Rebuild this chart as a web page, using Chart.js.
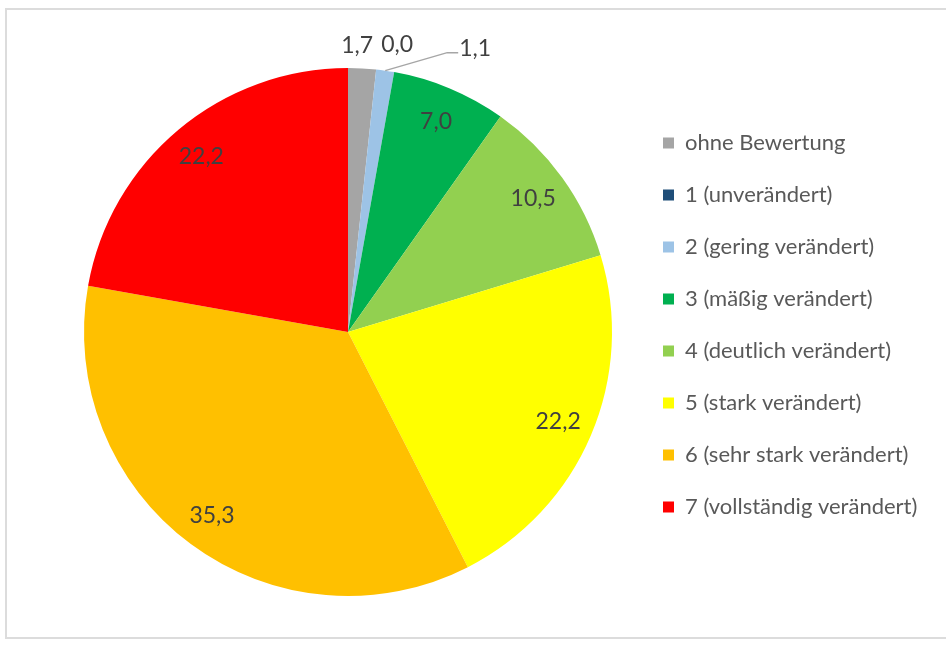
<!DOCTYPE html>
<html>
<head>
<meta charset="utf-8">
<script src="https://cdn.jsdelivr.net/npm/chart.js@4/dist/chart.umd.min.js"></script>
<style>
  html, body { margin: 0; padding: 0; background: #ffffff; overflow: hidden; }
  #frame { position: absolute; left: 5px; top: 8px; width: 960px; height: 631px;
           border: 2px solid #dcdcdc; border-right: none; box-sizing: border-box; background: #fff; }
  #wrap { position: absolute; left: 0; top: 0; width: 946px; height: 649px; }
</style>
</head>
<body>
<div id="frame"></div>
<div id="wrap"><canvas id="c" width="946" height="649"></canvas></div>
<script>
// ---- data ----
const categories = [
  'ohne Bewertung',
  '1 (unverändert)',
  '2 (gering verändert)',
  '3 (mäßig verändert)',
  '4 (deutlich verändert)',
  '5 (stark verändert)',
  '6 (sehr stark verändert)',
  '7 (vollständig verändert)'
];
const percentages = [1.7, 0.0, 1.1, 7.0, 10.5, 22.2, 35.3, 22.2];
const sliceColors = ['#A5A5A5', '#1F4E79', '#9DC3E6', '#00B050', '#92D050', '#FFFF00', '#FFC000', '#FF0000'];

// outside-label placement (pixel nudges relative to the slice's outer edge)
const outsideNudge = { 0: [-5, -23], 1: [21, -25], 2: [90, -22] };
const leaderFor = { 2: [[62, -18], [73, -18]] };

const fmt = v => v.toFixed(1).replace('.', ',');

const labelPlugin = {
  id: 'sliceLabels',
  afterDatasetsDraw(chart) {
    const ctx = chart.ctx;
    const meta = chart.getDatasetMeta(0);
    ctx.save();
    ctx.font = '23px Lato';
    ctx.fillStyle = '#404040';
    ctx.textAlign = 'center';
    ctx.textBaseline = 'middle';
    meta.data.forEach((arc, i) => {
      const p = arc.getProps(['x', 'y', 'startAngle', 'endAngle', 'outerRadius'], true);
      const mid = (p.startAngle + p.endAngle) / 2;
      const val = chart.data.datasets[0].data[i];
      const txt = fmt(val);
      if (val < 3) {
        const ex = p.x + Math.cos(mid) * p.outerRadius;
        const ey = p.y + Math.sin(mid) * p.outerRadius;
        const n = outsideNudge[i] || [0, -24];
        if (leaderFor[i]) {
          ctx.save();
          ctx.strokeStyle = '#A6A6A6';
          ctx.lineWidth = 1.5;
          ctx.beginPath();
          ctx.moveTo(ex, ey);
          leaderFor[i].forEach(q => ctx.lineTo(ex + q[0], ey + q[1]));
          ctx.stroke();
          ctx.restore();
        }
        ctx.fillText(txt, ex + n[0], ey + n[1]);
      } else {
        const r = p.outerRadius * 0.865;
        ctx.fillText(txt, p.x + Math.cos(mid) * r, p.y + Math.sin(mid) * r);
      }
    });
    ctx.restore();
  }
};

const LEGEND_LEFT = 633;   // legend box left (chart area right edge)
const chart = new Chart(document.getElementById('c'), {
  type: 'pie',
  data: {
    labels: categories,
    datasets: [{
      data: percentages,
      backgroundColor: sliceColors,
      borderWidth: 0,
      radius: 264,
      clip: false
    }]
  },
  options: {
    responsive: false,
    animation: false,
    layout: { padding: { top: 102, bottom: 87, left: 63, right: 20 } },
    plugins: {
      tooltip: { enabled: false },
      legend: {
        position: 'right',
        align: 'start',
        labels: {
          boxWidth: 11,
          boxHeight: 11,
          padding: 30,
          color: '#595959',
          font: { family: 'Lato', size: 22 }
        }
      }
    }
  },
  plugins: [labelPlugin]
});
// keep the chart area centred on the pie: place the legend's left edge at LEGEND_LEFT
const w = chart.legend.width;
chart.options.layout.padding.right = Math.max(0, 946 - LEGEND_LEFT - w);
chart.update();
</script>
</body>
</html>
